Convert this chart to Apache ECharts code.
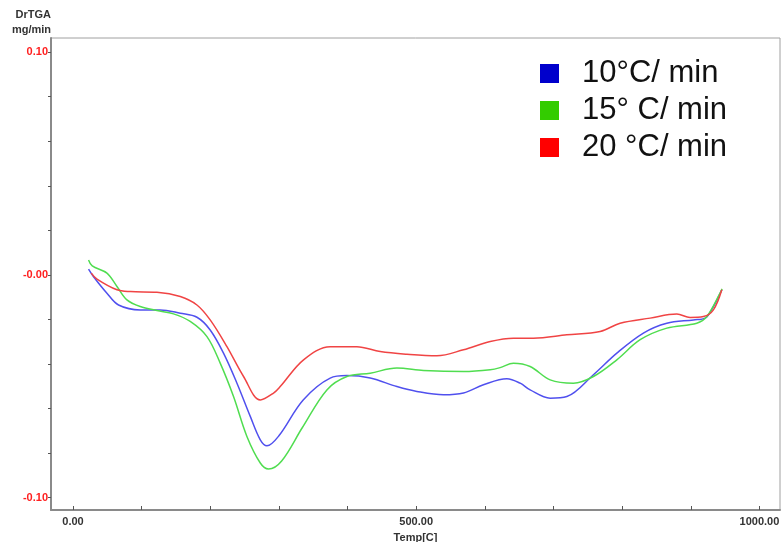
<!DOCTYPE html>
<html>
<head>
<meta charset="utf-8">
<script src="https://cdn.jsdelivr.net/npm/echarts@6/dist/echarts.min.js"></script>
<style>
  html, body { margin: 0; padding: 0; background: #fff; }
  #chart { width: 781px; height: 542px; }
</style>
</head>
<body>
<div id="chart"></div>
<script>
// data (temperature in C, DrTGA in mg/min)
var legendNames = ['10°C/ min', '15° C/ min', '20 °C/ min'];
var legendColors = ['#0000cc', '#33cc00', '#ff0000'];
var lineColors = ['#5050ee', '#50dd50', '#f04444'];

var temp10 = [22.7, 30, 49.5, 66.4, 98, 127.1, 156.3, 180.6, 199.9, 219.3, 238.9, 258.3, 272.9, 282.6, 300, 335.4, 374.7, 399.1, 433, 471.9, 501, 539.8, 568.9, 598, 632.1, 651.5, 666, 695.2, 719.5, 758.2, 792.3, 831, 865.1, 903.9, 920.9, 933, 945.2];
var rate10 = [0.0026, -0.0008, -0.0082, -0.0135, -0.0157, -0.0157, -0.0172, -0.0190, -0.0247, -0.0351, -0.0486, -0.0635, -0.0740, -0.0767, -0.0722, -0.0561, -0.0463, -0.0452, -0.0463, -0.0501, -0.0523, -0.0538, -0.0530, -0.0493, -0.0466, -0.0486, -0.0516, -0.0553, -0.0546, -0.0448, -0.0351, -0.0261, -0.0217, -0.0202, -0.0194, -0.0142, -0.0067];

var temp15 = [22.7, 28.1, 49.5, 64.1, 78.6, 98, 122.3, 146.5, 170.8, 195.2, 214.5, 233.9, 253.4, 272.9, 284.9, 304, 334, 369.9, 399.1, 433, 471.9, 510.6, 568.9, 607.8, 622.3, 641.7, 666, 695.2, 729.1, 758.2, 792.3, 826.3, 865.1, 908.8, 923.4, 942.7, 945.7];
var rate15 = [0.0067, 0.0040, 0.0008, -0.0052, -0.0112, -0.0142, -0.0160, -0.0175, -0.0209, -0.0277, -0.0396, -0.0546, -0.0725, -0.0844, -0.0871, -0.0835, -0.0686, -0.0516, -0.0456, -0.0441, -0.0418, -0.0429, -0.0434, -0.0426, -0.0416, -0.0396, -0.0411, -0.0471, -0.0486, -0.0456, -0.0381, -0.0291, -0.0239, -0.0217, -0.0187, -0.0082, -0.0063];

var temp20 = [26.7, 35, 64.1, 83.5, 122.3, 156.3, 180.6, 199.9, 224.3, 248.5, 272.9, 292.2, 301.9, 335.9, 374.7, 413.6, 447.6, 486.5, 530.1, 568.9, 607.8, 641.7, 670.8, 719.5, 768, 797.1, 840.8, 879.7, 899, 918.4, 933, 945.2];
var rate20 = [0.0008, -0.0019, -0.0067, -0.0075, -0.0078, -0.0097, -0.0135, -0.0202, -0.0322, -0.0456, -0.0561, -0.0530, -0.0501, -0.0381, -0.0322, -0.0322, -0.0344, -0.0356, -0.0363, -0.0336, -0.0299, -0.0284, -0.0284, -0.0269, -0.0254, -0.0217, -0.0194, -0.0176, -0.0191, -0.0187, -0.0157, -0.0067];

var xTicks = [0, 100, 200, 300, 400, 500, 600, 700, 800, 900, 1000];
var xLabels = [0, 500, 1000];
var yTicks = [-0.10, -0.08, -0.06, -0.04, -0.02, 0, 0.02, 0.04, 0.06, 0.08, 0.10];
var yLabels = [-0.10, 0, 0.10];

var labelFont = "'Liberation Sans', Arial, sans-serif";

function zip(xs, ys) {
    var out = [];
    xs.forEach(function (x, i) {
        out.push([x, ys[i]]);
    });
    return out;
}

function lineSeries(idx, xs, ys) {
    return {
        name: legendNames[idx],
        type: 'line',
        data: zip(xs, ys),
        smooth: 0.35,
        showSymbol: false,
        silent: true,
        lineStyle: { color: lineColors[idx], width: 1.5 },
        itemStyle: { color: legendColors[idx] }
    };
}

var chart = echarts.init(document.getElementById('chart'));
chart.setOption({
    animation: false,
    backgroundColor: '#fff',
    grid: {
        left: 51, right: 1, top: 38, bottom: 32,
        containLabel: false,
        outerBoundsMode: 'none',
        show: true,
        borderColor: '#a0a0a0',
        borderWidth: 1
    },
    legend: {
        orient: 'vertical',
        left: 540,
        top: 58,
        padding: 0,
        icon: 'rect',
        itemWidth: 19,
        itemHeight: 19,
        itemGap: 6,
        selectedMode: false,
        textStyle: {
            fontFamily: labelFont,
            fontSize: 31,
            lineHeight: 30,
            color: '#111',
            padding: [0, 0, 0, 18]
        },
        data: legendNames.map(function (n, i) {
            return { name: n, itemStyle: { color: legendColors[i] } };
        })
    },
    graphic: [{
        type: 'text',
        x: 51,
        y: 7,
        style: {
            text: 'DrTGA\nmg/min',
            fill: '#333',
            font: 'bold 11px ' + labelFont,
            align: 'right',
            lineHeight: 15
        }
    }],
    xAxis: {
        type: 'value',
        min: -32,
        max: 1030,
        name: 'Temp[C]',
        nameLocation: 'middle',
        nameGap: 22,
        nameTextStyle: { color: '#333', fontWeight: 'bold', fontSize: 11, fontFamily: labelFont },
        axisLine: { onZero: false, lineStyle: { color: '#8a8a8a', width: 2 } },
        axisTick: { inside: true, length: 4, customValues: xTicks, lineStyle: { color: '#555' } },
        axisLabel: {
            customValues: xLabels,
            margin: 6,
            color: '#333',
            fontWeight: 'bold',
            fontSize: 11,
            fontFamily: labelFont,
            formatter: function (v) { return v.toFixed(2); }
        },
        splitLine: { show: false }
    },
    yAxis: {
        type: 'value',
        min: -0.1055,
        max: 0.1063,
        axisLine: { show: true, onZero: false, lineStyle: { color: '#8a8a8a', width: 2 } },
        axisTick: { show: true, length: 3, customValues: yTicks, lineStyle: { color: '#555' } },
        axisLabel: {
            customValues: yLabels,
            margin: 3,
            color: '#ff2020',
            fontWeight: 'bold',
            fontSize: 11,
            fontFamily: labelFont,
            formatter: function (v) {
                if (Math.abs(v) < 1e-9) return '-0.00';
                return v.toFixed(2);
            }
        },
        splitLine: { show: false }
    },
    series: [
        lineSeries(0, temp10, rate10),
        lineSeries(1, temp15, rate15),
        lineSeries(2, temp20, rate20)
    ]
});
</script>
</body>
</html>
